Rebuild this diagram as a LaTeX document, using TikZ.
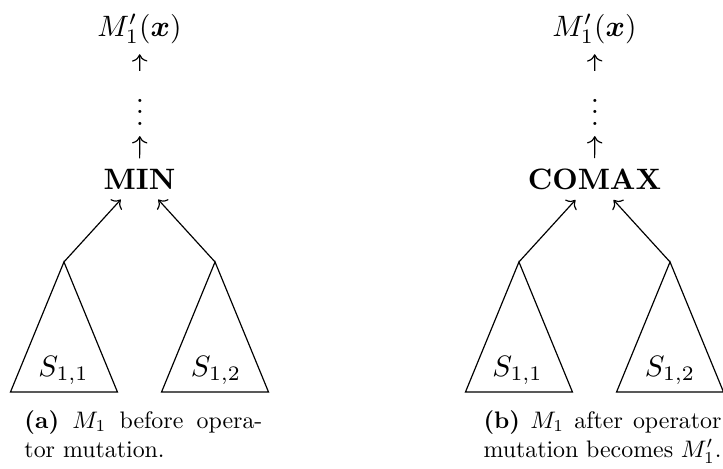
\documentclass[tikz,border=0pt]{standalone}
\usepackage{amsmath, amssymb, bm}
\usepackage{tikz}
\usetikzlibrary{positioning,arrows.meta}
\tikzset{
  treearrow/.style={->},
  opnode/.style={font=\bfseries},
  subtree/.style={line join=miter},
  leaflabel/.style={anchor=base},
  captext/.style={anchor=north west, inner sep=0pt, scale=0.81, transform shape, text width=3.5cm, align=justify}
}
\begin{document}
\begin{tikzpicture}
  \useasboundingbox (0,0) rectangle (8.614,-5.576);
  % (a) before mutation
  \node (outa) at (1.662,-0.346) {$M_1'(\bm{x})$};
  \node (vdotsa) at (1.668,-1.233) {$\vdots$};
  \node[opnode] (minop) at (1.662,-2.133) {MIN};
  \coordinate (lefta) at (0.762,-3.121);
  \coordinate (righta) at (2.562,-3.121);
  \draw[subtree] (lefta) -- ++(-0.637,-1.549) -- ++(1.274,0) -- cycle;
  \draw[subtree] (righta) -- ++(-0.637,-1.549) -- ++(1.274,0) -- cycle;
  \node[leaflabel] (sa1) at (0.757,-4.480) {$S_{1,1}$};
  \node[leaflabel] (sa2) at (2.573,-4.480) {$S_{1,2}$};
  \draw[treearrow] (vdotsa) -- (outa);
  \draw[treearrow] (minop) -- (vdotsa);
  \draw[treearrow] (lefta) -- (minop);
  \draw[treearrow] (righta) -- (minop);
  \node[captext] (capa) at (0.286,-4.885) {\textbf{(a)} $M_1$ before opera-\linebreak tor mutation.};
  % (b) after mutation
  \node (outb) at (7.083,-0.346) {$M_1'(\bm{x})$};
  \node (vdotsb) at (7.089,-1.233) {$\vdots$};
  \node[opnode] (comaxop) at (7.083,-2.133) {COMAX};
  \coordinate (leftb) at (6.183,-3.121);
  \coordinate (rightb) at (7.983,-3.121);
  \draw[subtree] (leftb) -- ++(-0.637,-1.549) -- ++(1.274,0) -- cycle;
  \draw[subtree] (rightb) -- ++(-0.637,-1.549) -- ++(1.274,0) -- cycle;
  \node[leaflabel] (sb1) at (6.166,-4.480) {$S_{1,1}$};
  \node[leaflabel] (sb2) at (7.983,-4.480) {$S_{1,2}$};
  \draw[treearrow] (vdotsb) -- (outb);
  \draw[treearrow] (comaxop) -- (vdotsb);
  \draw[treearrow] (leftb) -- (comaxop);
  \draw[treearrow] (rightb) -- (comaxop);
  \node[captext] (capb) at (5.755,-4.885) {\textbf{(b)} $M_1$ after operator\linebreak mutation becomes $M_1'$.};
\end{tikzpicture}
\end{document}
